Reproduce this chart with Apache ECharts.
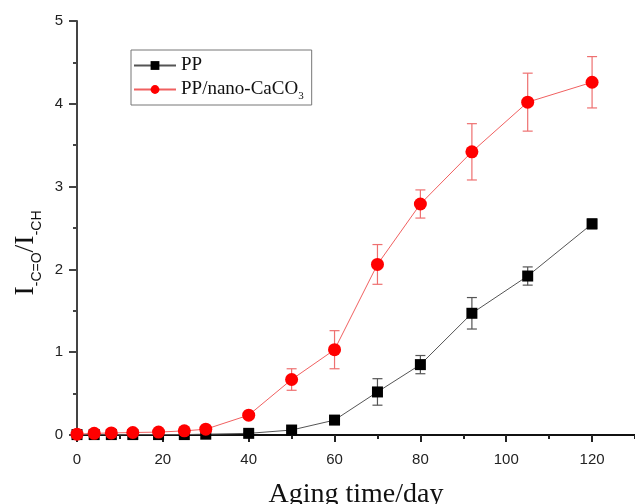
<!DOCTYPE html>
<html>
<head>
<meta charset="utf-8">
<script src="https://cdn.jsdelivr.net/npm/echarts@6/dist/echarts.min.js"></script>
<style>
  html, body { margin: 0; padding: 0; background: #fff; }
  #chart { width: 635px; height: 504px; }
</style>
</head>
<body>
<div id="chart"></div>
<script>
// aging days and measured carbonyl index
var days = [0, 4, 8, 13, 19, 25, 30, 40, 50, 60, 70, 80, 92, 105, 120];
var ppVals = [0.005, 0.005, 0.005, 0.005, 0.005, 0.005, 0.01, 0.02, 0.06, 0.18, 0.52, 0.85, 1.47, 1.92, 2.55];
var ppErr = [0, 0, 0, 0, 0, 0, 0, 0.01, 0.02, 0.03, 0.16, 0.11, 0.19, 0.11, 0.06];
var nanoVals = [0.01, 0.02, 0.025, 0.03, 0.035, 0.05, 0.07, 0.24, 0.67, 1.03, 2.06, 2.79, 3.42, 4.02, 4.26];
var nanoErr = [0, 0, 0, 0, 0, 0, 0, 0.02, 0.13, 0.23, 0.24, 0.17, 0.34, 0.35, 0.31];

var serif = '"Liberation Serif", "Times New Roman", serif';
var sans = '"Liberation Sans", Arial, sans-serif';

function pairs(ys) {
    return days.map(function (d, i) { return [d, ys[i]]; });
}
function errData(ys, es) {
    return days.map(function (d, i) { return [d, ys[i], es[i]]; });
}
function errRender(color) {
    return function (params, api) {
        var e = api.value(2);
        if (!e) return null;
        var top = api.coord([api.value(0), api.value(1) + e]);
        var bot = api.coord([api.value(0), api.value(1) - e]);
        var w = 5;
        var st = { stroke: color, lineWidth: 1.2 };
        return {
            type: 'group',
            children: [
                { type: 'line', shape: { x1: top[0], y1: top[1], x2: bot[0], y2: bot[1] }, style: st },
                { type: 'line', shape: { x1: top[0] - w, y1: top[1], x2: top[0] + w, y2: top[1] }, style: st },
                { type: 'line', shape: { x1: bot[0] - w, y1: bot[1], x2: bot[0] + w, y2: bot[1] }, style: st }
            ]
        };
    };
}

var chart = echarts.init(document.getElementById('chart'));
chart.setOption({
    animation: false,
    grid: { left: 77, top: 21, right: 0, bottom: 69, containLabel: false, outerBoundsMode: 'none' },
    legend: {
        left: 131, top: 50,
        orient: 'vertical',
        padding: [6, 8, 3, 2],
        itemGap: 5,
        itemWidth: 42,
        itemHeight: 11,
        borderColor: '#777',
        borderWidth: 1,
        borderRadius: 0,
        textStyle: {
            fontFamily: serif, fontSize: 19, color: '#111',
            rich: {
                s: { fontFamily: serif, fontSize: 11, color: '#111', padding: [14, 0, 0, 0], verticalAlign: 'top' }
            }
        },
        formatter: function (name) {
            return name === 'PP/nano-CaCO3' ? 'PP/nano-CaCO{s|3}' : name;
        },
        data: ['PP', 'PP/nano-CaCO3']
    },
    xAxis: [{
        type: 'value', min: 0, max: 130, interval: 20,
        name: 'Aging time/day',
        nameLocation: 'middle',
        nameGap: 46,
        nameTextStyle: { fontFamily: serif, fontSize: 28, color: '#111' },
        axisLine: { lineStyle: { color: '#111', width: 2 } },
        axisTick: { show: true, length: 7, lineStyle: { color: '#222', width: 2 } },
        axisLabel: {
            margin: 17, fontFamily: sans, fontSize: 15, color: '#222',
            showMaxLabel: false,
            formatter: function (v) { return v % 20 === 0 ? String(v) : ''; }
        },
        splitLine: { show: false }
    }, {
        type: 'value', min: 0, max: 130, interval: 10,
        position: 'bottom', offset: 0,
        axisLine: { show: true, onZero: false, lineStyle: { color: '#111', width: 2 } },
        axisTick: { show: true, length: 4, lineStyle: { color: '#222', width: 2 } },
        axisLabel: { show: false },
        splitLine: { show: false }
    }],
    yAxis: {
        type: 'value', min: 0, max: 5, interval: 1,
        name: '{m|I}{s|-C=O}{m|/I}{s|-CH}',
        nameLocation: 'middle',
        nameRotate: 90,
        nameGap: 36,
        nameTextStyle: {
            padding: [0, 50, 0, 0],
            rich: {
                m: { fontFamily: serif, fontSize: 28, lineHeight: 28, color: '#111', verticalAlign: 'top' },
                s: { fontFamily: sans, fontSize: 14, lineHeight: 14, color: '#111', padding: [18, 0, 0, 0], verticalAlign: 'top' }
            }
        },
        axisLine: { show: true, lineStyle: { color: '#444', width: 2 } },
        axisTick: { show: true, length: 8, lineStyle: { color: '#444', width: 2 } },
        minorTick: { show: true, splitNumber: 2, length: 4, lineStyle: { color: '#444', width: 2 } },
        axisLabel: { margin: 14, fontFamily: sans, fontSize: 15, color: '#222' },
        splitLine: { show: false },
        minorSplitLine: { show: false }
    },
    series: [{
        type: 'custom',
        name: 'ppErr',
        renderItem: errRender('#555'),
        data: errData(ppVals, ppErr),
        z: 1,
        silent: true
    }, {
        type: 'custom',
        name: 'nanoErr',
        renderItem: errRender('#ee7070'),
        data: errData(nanoVals, nanoErr),
        z: 1,
        silent: true
    }, {
        type: 'line',
        name: 'PP',
        data: pairs(ppVals),
        symbol: 'rect',
        symbolSize: 11,
        itemStyle: { color: '#000' },
        lineStyle: { color: '#555', width: 1 },
        z: 3
    }, {
        type: 'line',
        name: 'PP/nano-CaCO3',
        data: pairs(nanoVals),
        symbol: 'circle',
        symbolSize: 13,
        itemStyle: { color: '#ff0000' },
        lineStyle: { color: '#f06060', width: 1 },
        z: 4
    }]
});
</script>
</body>
</html>
